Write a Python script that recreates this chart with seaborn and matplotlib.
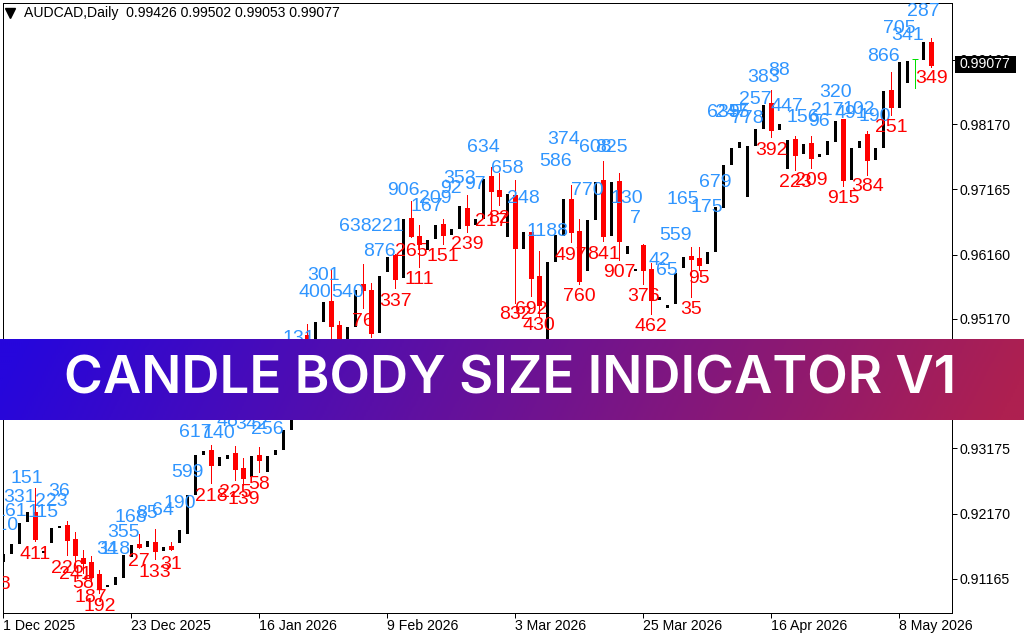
import numpy as np
import pandas as pd
import matplotlib
matplotlib.use('Agg')
import matplotlib.pyplot as plt
from matplotlib.colors import LinearSegmentedColormap
from matplotlib.patches import Rectangle
import seaborn as sns

# prices are kept in points (1e-5), one entry per daily bar, bar -1 sits off the left edge
opens = [91456,
         91445, 91568, 91722, 92061, 92195, 91579, 91738, 91964, 91990, 91779,
         91487, 91421, 91240, 91056, 91086, 91190, 91518, 91702, 91672, 91733,
         91610, 91672, 91733, 91876, 92472, 93093, 93150, 92919, 93027, 93104,
         92873, 92750, 93073, 92827, 93088, 93165, 93473, 94305, 94921, 94690,
         95141, 95445, 95075, 94505, 95060, 95706, 95614, 94972, 95907, 96153,
         95814, 96723, 96446, 96245, 96415, 96630, 96476, 96569, 96877, 96630,
         96723, 97370, 97154, 96446, 97077, 96261, 96507, 95830, 94859, 96061,
         96461, 97015, 96523, 95922, 96707, 97308, 96461, 97293, 96179, 95922,
         96307, 95937, 95475, 95352, 95418, 95968, 96138, 96107, 96030, 96215,
         96892, 97554, 97816, 97062, 97847, 98109, 98494, 98093, 97493, 97939,
         97724, 97878, 97678, 97708, 97909, 98247, 97323, 97816, 98016, 97631,
         97816, 98694, 98432, 98817, 99170, 99171, 99426]
closes = [91333,
          91548, 91702, 92021, 92195, 91779, 91595, 91944, 91980, 91764, 91533,
          91405, 91199, 91020, 91071, 91190, 91533, 91687, 91656, 91749, 91600,
          91656, 91625, 91918, 92457, 93073, 93135, 92919, 93042, 93073, 92857,
          92719, 93058, 92996, 93058, 93150, 93458, 93843, 94444, 94767, 95121,
          95429, 95064, 94767, 95044, 95614, 95614, 94956, 95830, 96122, 95784,
          96707, 96446, 96322, 96384, 96615, 96461, 96553, 96908, 96615, 96707,
          97319, 97139, 97062, 97092, 96261, 96507, 95799, 95383, 96045, 96461,
          97015, 96507, 95753, 96692, 97277, 96446, 97277, 96369, 96292, 95937,
          95922, 95460, 95506, 95383, 95871, 96122, 96091, 95999, 96199, 96892,
          97539, 97801, 97893, 97832, 98093, 98463, 98078, 98170, 97924, 97693,
          97862, 97647, 97708, 97909, 98217, 97308, 97801, 97909, 97616, 97801,
          98679, 98432, 99125, 99141, 99170, 99433, 99077]
bear_highs = {-1: 91456, 4: 92560, 8: 92057, 9: 91887, 10: 91610, 11: 91518, 12: 91302,
              17: 91856, 19: 91929, 21: 91733, 26: 93227, 29: 93212, 30: 93027, 32: 93196,
              38: 95090, 41: 95922, 42: 95137, 45: 96014, 46: 95717, 49: 96168, 51: 96985,
              52: 96615, 55: 96707, 58: 97077, 61: 97504, 62: 97420, 64: 97308, 66: 96507,
              67: 96215, 71: 97231, 72: 96707, 75: 97601, 77: 97416, 80: 96318, 81: 96030,
              86: 96276, 87: 96276, 96: 98694, 99: 97986, 101: 97986, 105: 98247, 108: 98063,
              111: 98971, 114: 99176, 116: 99502}
bear_lows = {-1: 91333, 4: 91753, 8: 91533, 9: 91379, 10: 91256, 11: 91102, 12: 90948,
             17: 91636, 19: 91467, 21: 91610, 26: 92646, 29: 92688, 30: 92611, 32: 92811,
             38: 94690, 41: 94767, 42: 94690, 45: 95332, 46: 94895, 49: 95649, 51: 96426,
             52: 95973, 55: 96322, 58: 96512, 61: 96769, 62: 96923, 64: 95414, 66: 95522,
             67: 95198, 71: 96353, 72: 95702, 75: 96369, 77: 96076, 80: 95706, 81: 95244,
             86: 95511, 87: 95922, 96: 97970, 99: 97462, 101: 97493, 105: 97216, 108: 97385,
             111: 98309, 114: 98729, 116: 99053}
body_labels = ['128',
               '110', '161', '331', '151', '411', '115', '223', '36', '226', '241',
               '58', '187', '192', '34', '118', '355', '168', '27', '85', '133',
               '64', '31', '190', '599', '617', '42', '218', '140', '48', '225',
               '139', '342', '58', '256', '64', '293', '370', '131', '240', '400',
               '301', '370', '190', '540', '638', '76', '660', '876', '221', '337',
               '906', '265', '111', '167', '209', '151', '92', '353', '239', '97',
               '634', '217', '82', '658', '832', '248', '692', '430', '1188', '586',
               '374', '497', '760', '770', '608', '841', '825', '907', '130', '7',
               '376', '462', '42', '65', '559', '165', '35', '95', '175', '679',
               '635', '247', '95', '778', '257', '383', '392', '88', '447', '223',
               '156', '209', '96', '217', '320', '915', '491', '102', '384', '190',
               '866', '251', '705', '341', '', '287', '349']
label_prices = [91112,
                92021, 92237, 92442, 92739, 91579, 92226, 92395, 92545, 91353, 91267,
                91122, 90917, 90778, 91646, 91641, 91918, 92134, 91467, 92200, 91287,
                92252, 91425, 92354, 92842, 93447, 93920, 92472, 93432, 93612, 92523,
                92422, 93566, 92646, 93489, 93766, 94000, 94228, 94895, 94536, 95603,
                95871, 94613, 94536, 95603, 96615, 95163, 94690, 96230, 96626, 95475,
                97180, 96245, 95803, 96934, 97051, 96153, 97205, 97359, 96342, 97266,
                97832, 96707, 96743, 97513, 95264, 97051, 95348, 95101, 96538, 97631,
                97966, 96179, 95537, 97180, 97832, 96195, 97832, 95911, 97051, 96743,
                95537, 95075, 96102, 95948, 96487, 97042, 95348, 95819, 96912, 97297,
                98371, 98371, 98371, 98283, 98582, 98910, 97796, 99028, 98478, 97297,
                98298, 97334, 98232, 98412, 98683, 97051, 98360, 98428, 97231, 98309,
                99233, 98140, 99669, 99567, 0, 99937, 98899]

price_ticks = [91165, 92170, 93175, 94175, 95170, 96160, 97165, 98170, 99160]
date_labels = ['1 Dec 2025', '23 Dec 2025', '16 Jan 2026', '9 Feb 2026',
               '3 Mar 2026', '25 Mar 2026', '16 Apr 2026', '8 May 2026']
date_bars = [0, 16, 32, 48, 64, 80, 96, 112]
header = 'AUDCAD,Daily  0.99426 0.99502 0.99053 0.99077'
last_price = 99077
doji_bar = 114
banner_colors = ['#2606dc', '#6a1296', '#ae2050']

BLUE = '#2f95ff'
RED = '#ff0000'
W, H = 1024, 640


def bar_frame():
    rows = []
    for n, (o, c) in enumerate(zip(opens, closes)):
        bar = n - 1
        kind = 'doji' if bar == doji_bar else ('bear' if c < o else 'bull')
        hi = bear_highs.get(bar, max(o, c))
        lo = bear_lows.get(bar, min(o, c))
        rows.append(dict(bar=bar, kind=kind, top=max(o, c), bottom=min(o, c), high=hi, low=lo))
    return pd.DataFrame(rows)


def segments(df, a, b):
    # long form so lineplot draws one vertical stroke per bar
    return df.melt(id_vars=['bar'], value_vars=[a, b], value_name='price').sort_values(['bar', 'price'])


def draw_bars(ax, df):
    bull = df[df.kind == 'bull']
    bear = df[df.kind == 'bear']
    doji = df[df.kind == 'doji']
    opts = dict(x='bar', y='price', units='bar', estimator=None, ax=ax, legend=False,
                solid_capstyle='butt', antialiased=False)
    sns.lineplot(data=segments(bear, 'high', 'low'), color=RED, lw=0.72, **opts)
    sns.lineplot(data=segments(bear, 'top', 'bottom'), color=RED, lw=3.6, **opts)
    sns.lineplot(data=segments(bull, 'top', 'bottom'), color='black', lw=2.16, **opts)
    sns.lineplot(data=segments(doji, 'high', 'low'), color='#00e000', lw=0.72, **opts)
    ax.plot(doji.bar, doji.high, marker='_', ms=4, mew=0.72, color='#00e000')


def draw_labels(ax, df):
    for n, row in df.iterrows():
        if body_labels[n] == '':
            continue
        color = RED if row.kind == 'bear' else BLUE
        ax.text(row.bar, label_prices[n], body_labels[n], color=color, fontsize=14,
                ha='center', va='center_baseline', clip_on=True, family='Liberation Sans', zorder=5)


def draw_banner(fig):
    cax = fig.add_axes([0, 1 - 420 / H, 1, 81 / H])
    cmap = LinearSegmentedColormap.from_list('banner', banner_colors)
    grad = np.linspace(0, 1, 512) + np.linspace(-0.02, 0.02, 40)[:, None]
    cax.imshow(grad, cmap=cmap, aspect='auto', extent=[0, 1, 0, 1], vmin=0, vmax=1)
    cax.axis('off')
    cax.text(0.498, 0.49, 'CANDLE BODY SIZE INDICATOR V1', color='white', ha='center', va='center',
             fontsize=38, fontweight='semibold', family='Inter', transform=cax.transAxes)


def main():
    sns.set_theme(style='white')
    plt.rcParams['font.family'] = ['Liberation Sans', 'DejaVu Sans']

    fig = plt.figure(figsize=(W / 100, H / 100), dpi=100)
    ax = fig.add_axes([2.5 / W, 1 - 613 / H, 949.5 / W, 610.5 / H])
    df = bar_frame()
    draw_bars(ax, df)
    draw_labels(ax, df)

    # one pixel is 15.4 points, bars are 8 pixels apart
    ax.set_xlim(-0.1, 118.6)
    ax.set_ylim(90640, 100041)
    ax.set_xlabel('')
    ax.set_ylabel('')
    ax.yaxis.tick_right()
    ax.set_yticks(price_ticks)
    ax.set_yticklabels(['%.5f' % (p / 1e5) for p in price_ticks])
    ax.set_xticks(date_bars)
    ax.set_xticklabels(date_labels, ha='left')
    ax.tick_params(axis='both', length=3.6, width=0.72, color='black', labelsize=10.2,
                   labelcolor='black', pad=2, bottom=True, right=True)
    ax.tick_params(axis='x', pad=0.8)
    for spine in ax.spines.values():
        spine.set_visible(True)
        spine.set_color('black')
        spine.set_linewidth(0.72)

    ax.plot([9.5 / W], [1 - 13 / H], marker='v', ms=7, color='black', transform=fig.transFigure, clip_on=False)
    fig.text(24 / W, 1 - 13 / H, header, fontsize=10.1, color='black', ha='left', va='center')

    # last price tag sits over the right hand scale
    ytrans = ax.get_yaxis_transform()
    ax.add_patch(Rectangle((1.0032, last_price - 115), 0.0642, 257, facecolor='black', edgecolor='none',
                           transform=ytrans, clip_on=False, zorder=9))
    ax.text(1.0074, last_price + 13, '%.5f' % (last_price / 1e5), color='white', fontsize=10.2, va='center', ha='left',
            transform=ytrans, zorder=10)

    draw_banner(fig)
    fig.savefig('out.png', dpi=100)
    plt.close(fig)


if __name__ == '__main__':
    main()
